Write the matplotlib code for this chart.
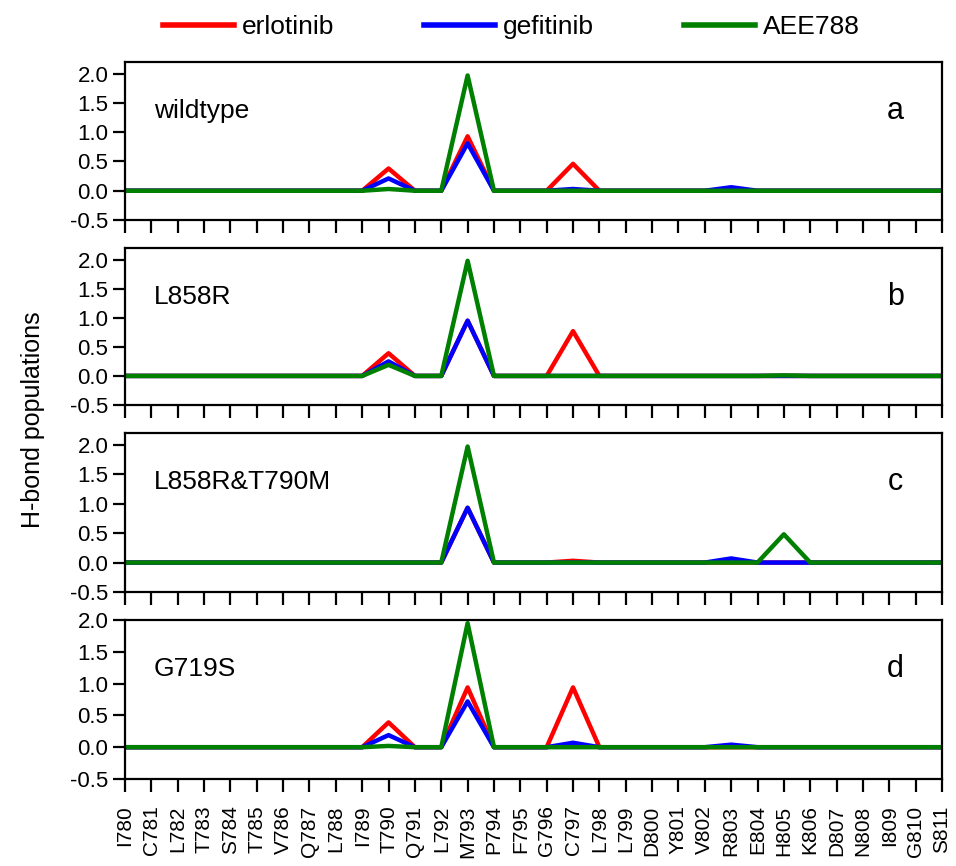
import matplotlib
matplotlib.use("Agg")
import matplotlib.pyplot as plt

plt.rcParams["font.family"] = ["Liberation Sans", "DejaVu Sans"]

residues = ["I780", "C781", "L782", "T783", "S784", "T785", "V786", "Q787", "L788", "I789",
            "T790", "Q791", "L792", "M793", "P794", "F795", "G796", "C797", "L798", "L799",
            "D800", "Y801", "V802", "R803", "E804", "H805", "K806", "D807", "N808", "I809",
            "G810", "S811"]

panels = ["wildtype", "L858R", "L858R&T790M", "G719S"]
letters = ["a", "b", "c", "d"]


def hb(pairs):
    # sparse -> full list over residues
    vals = [0.0] * len(residues)
    for name, v in pairs.items():
        vals[residues.index(name)] = v
    return vals


# H-bond populations
erlotinib = [
    hb({"T790": 0.38, "M793": 0.93, "C797": 0.46}),
    hb({"T790": 0.39, "M793": 0.95, "C797": 0.77}),
    hb({"M793": 0.93, "C797": 0.03}),
    hb({"T790": 0.39, "M793": 0.94, "C797": 0.94}),
]
gefitinib = [
    hb({"T790": 0.21, "M793": 0.81, "C797": 0.03, "R803": 0.06}),
    hb({"T790": 0.25, "M793": 0.95}),
    hb({"M793": 0.93, "R803": 0.07}),
    hb({"T790": 0.19, "M793": 0.72, "C797": 0.07, "R803": 0.04}),
]
aee788 = [
    hb({"T790": 0.03, "M793": 1.97}),
    hb({"T790": 0.19, "M793": 1.98, "H805": 0.01}),
    hb({"M793": 1.97, "H805": 0.48}),
    hb({"T790": 0.02, "M793": 1.95}),
]
yticks = [-0.5, 0.0, 0.5, 1.0, 1.5, 2.0]
ytop = [2.2, 2.2, 2.2, 2.0]

fig = plt.figure(figsize=(9.56, 8.66), dpi=100)
left, width = 125 / 956, 817 / 956
tops = [62, 248, 433, 620]
bottoms = [220, 405, 592, 779]

x = list(range(len(residues)))
lines = []
for i in range(4):
    ax = fig.add_axes([left, 1 - bottoms[i] / 866, width, (bottoms[i] - tops[i]) / 866])
    l1, = ax.plot(x, erlotinib[i], color="#ff0000", lw=3.2)
    l2, = ax.plot(x, gefitinib[i], color="#0000ff", lw=3.2)
    l3, = ax.plot(x, aee788[i], color="#008000", lw=3.2)
    lines = [l1, l2, l3]
    ax.set_xlim(0, len(residues) - 1)
    ax.set_ylim(-0.5, ytop[i])
    ax.set_yticks(yticks)
    ax.set_yticklabels([f"{v:.1f}" for v in yticks], fontsize=16)
    ax.set_xticks(x)
    if i == 3:
        ax.set_xticklabels(residues, rotation=90, fontsize=15)
    else:
        ax.set_xticklabels([])
    ax.tick_params(axis="both", direction="out", length=9, width=1.6, pad=3)
    ax.tick_params(axis="x", pad=10)
    for s in ax.spines.values():
        s.set_linewidth(1.6)
    ax.text(0.035, 0.69, panels[i], transform=ax.transAxes, fontsize=19, va="center", ha="left")
    ax.text(0.943, 0.69, letters[i], transform=ax.transAxes, fontsize=22, va="center", ha="center")

fig.text(0.035, 0.515, "H-bond populations", rotation=90, fontsize=18, va="center", ha="center")

fig.legend(lines, ["erlotinib", "gefitinib", "AEE788"], loc="center", bbox_to_anchor=(0.535, 0.969),
           ncol=3, frameon=False, fontsize=19, handlelength=2.7, handletextpad=0.3,
           columnspacing=3.4, borderaxespad=0)
for h in fig.legends[0].get_lines():
    h.set_linewidth(4)

fig.savefig("out.png", dpi=100)
